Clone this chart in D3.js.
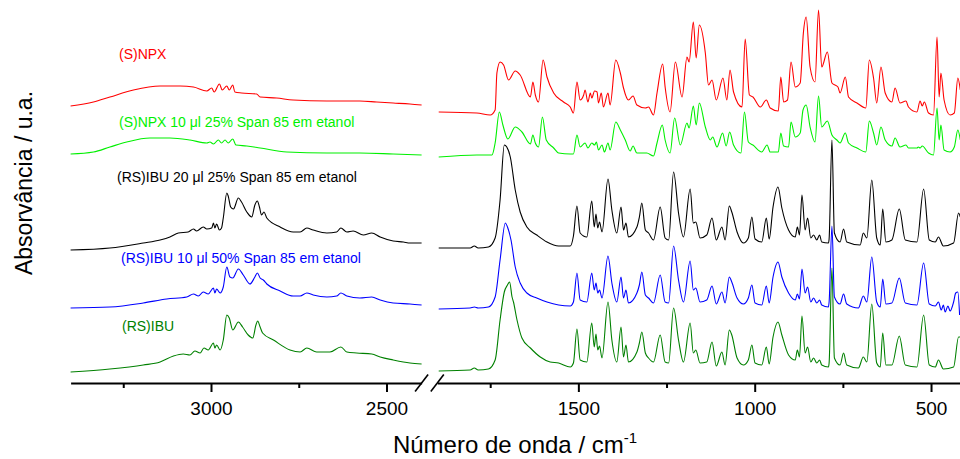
<!DOCTYPE html>
<html>
<head>
<meta charset="utf-8">
<script src="https://cdn.jsdelivr.net/npm/d3@7"></script>
<style>
  body { margin: 0; background: #fff; }
  text { font-family: Arial, "Liberation Sans", sans-serif; }
</style>
</head>
<body>
<div id="chart"></div>
<script>
// spectra: [wavenumber / cm-1, absorbance (a.u., offset as stacked in the figure)]
const npx = [[3400,2.77],[3335,2.81],[3288,2.86],[3221,2.93],[3145,2.97],[3088,2.97],[3050,2.96],[3012,2.92],[2998,2.95],[2991,2.91],[2976,2.99],[2968,2.93],[2955,2.97],[2948,2.93],[2938,2.98],[2932,2.91],[2913,2.90],[2870,2.89],[2860,2.86],[2813,2.85],[2766,2.83],[2670,2.82],[2576,2.82],[2528,2.81],[2481,2.80],[2433,2.79],[2400,2.78],
  [1896,2.71],[1788,2.70],[1750,2.68],[1736,2.73],[1731,3.10],[1722,3.21],[1712,3.18],[1698,3.03],[1679,3.12],[1665,3.08],[1636,2.86],[1629,3.01],[1622,2.88],[1613,2.81],[1600,3.23],[1589,3.06],[1570,2.90],[1542,2.81],[1523,2.76],[1514,2.70],[1504,3.01],[1495,2.83],[1485,2.88],[1481,2.93],[1473,2.81],[1466,2.90],[1462,2.85],[1454,2.92],[1447,2.91],[1443,2.80],[1435,2.90],[1429,2.76],[1416,2.90],[1410,2.78],[1394,3.23],[1381,3.10],[1372,2.95],[1358,2.83],[1345,2.87],[1334,2.78],[1310,2.75],[1301,2.76],[1287,2.68],[1277,2.90],[1261,3.19],[1254,2.96],[1240,2.71],[1225,3.21],[1206,2.86],[1192,3.26],[1186,3.21],[1174,3.61],[1166,3.25],[1157,3.58],[1140,3.30],[1131,2.98],[1121,3.03],[1109,2.83],[1090,3.05],[1079,2.83],[1070,3.13],[1060,2.91],[1036,2.76],[1027,3.44],[1015,2.88],[1005,2.86],[984,2.76],[967,2.83],[956,2.75],[933,2.72],[926,3.06],[918,2.81],[907,2.83],[897,3.21],[885,2.96],[871,3.00],[862,3.50],[854,3.66],[843,3.16],[829,3.01],[819,3.73],[810,3.16],[794,3.31],[781,3.00],[764,2.96],[758,2.90],[743,3.06],[734,2.86],[710,2.80],[685,2.75],[675,3.23],[663,3.05],[654,2.80],[642,3.16],[630,2.90],[611,2.81],[602,2.95],[588,2.80],[571,2.82],[564,2.76],[540,2.71],[531,2.82],[525,2.77],[519,2.81],[507,2.70],[493,2.68],[483,3.46],[477,2.86],[472,3.10],[463,2.83],[446,2.68],[434,2.70],[424,3.05],[417,2.93]];

const npxSpan = [[3400,2.29],[3335,2.31],[3288,2.36],[3240,2.41],[3174,2.45],[3117,2.45],[3060,2.43],[3012,2.40],[3003,2.41],[2993,2.39],[2979,2.43],[2970,2.40],[2960,2.43],[2951,2.40],[2938,2.44],[2929,2.38],[2898,2.37],[2860,2.35],[2784,2.31],[2670,2.30],[2576,2.30],[2481,2.29],[2400,2.28],
  [1896,2.26],[1788,2.28],[1745,2.28],[1736,2.40],[1724,2.71],[1714,2.58],[1700,2.44],[1679,2.56],[1660,2.51],[1636,2.39],[1629,2.48],[1622,2.40],[1613,2.36],[1602,2.66],[1591,2.43],[1570,2.35],[1556,2.30],[1523,2.29],[1514,2.29],[1504,2.48],[1495,2.36],[1481,2.40],[1473,2.35],[1462,2.40],[1454,2.38],[1449,2.41],[1443,2.33],[1433,2.38],[1426,2.31],[1416,2.40],[1410,2.33],[1394,2.61],[1381,2.53],[1367,2.43],[1353,2.32],[1345,2.37],[1334,2.30],[1306,2.30],[1287,2.27],[1277,2.40],[1262,2.58],[1254,2.43],[1240,2.30],[1227,2.65],[1211,2.38],[1192,2.60],[1186,2.55],[1174,2.77],[1166,2.58],[1157,2.80],[1140,2.56],[1126,2.43],[1119,2.46],[1107,2.36],[1091,2.50],[1081,2.37],[1071,2.51],[1060,2.38],[1039,2.30],[1029,2.71],[1018,2.41],[1005,2.38],[980,2.31],[965,2.38],[956,2.31],[933,2.31],[926,2.50],[918,2.37],[904,2.36],[897,2.61],[885,2.46],[871,2.50],[863,2.73],[854,2.78],[843,2.56],[829,2.41],[819,2.87],[810,2.56],[794,2.62],[781,2.48],[767,2.43],[758,2.40],[743,2.50],[734,2.40],[710,2.35],[685,2.31],[675,2.62],[663,2.50],[654,2.38],[642,2.56],[630,2.43],[611,2.37],[602,2.45],[588,2.36],[571,2.38],[564,2.35],[540,2.35],[536,2.36],[531,2.35],[525,2.37],[507,2.30],[493,2.28],[483,2.75],[477,2.43],[472,2.58],[463,2.33],[446,2.31],[434,2.36],[424,2.53],[417,2.43]];

const ibu20 = [[3400,1.33],[3288,1.35],[3193,1.40],[3145,1.43],[3117,1.46],[3093,1.50],[3065,1.51],[3050,1.54],[3041,1.52],[3022,1.56],[3012,1.54],[2998,1.55],[2993,1.60],[2989,1.55],[2984,1.59],[2976,1.53],[2970,1.55],[2965,1.65],[2955,1.90],[2951,1.87],[2944,1.76],[2936,1.74],[2922,1.85],[2913,1.81],[2898,1.71],[2884,1.66],[2875,1.78],[2868,1.82],[2862,1.76],[2856,1.68],[2849,1.71],[2841,1.65],[2803,1.56],[2766,1.51],[2746,1.51],[2727,1.55],[2709,1.53],[2670,1.50],[2642,1.51],[2630,1.55],[2613,1.51],[2595,1.52],[2566,1.48],[2542,1.50],[2518,1.46],[2481,1.42],[2452,1.41],[2433,1.40],[2400,1.40],
  [1896,1.35],[1807,1.35],[1795,1.37],[1784,1.35],[1755,1.36],[1736,1.45],[1722,1.83],[1710,2.38],[1703,2.36],[1693,2.26],[1679,1.93],[1665,1.71],[1646,1.56],[1618,1.48],[1589,1.41],[1556,1.37],[1523,1.37],[1514,1.47],[1504,1.77],[1495,1.50],[1476,1.46],[1462,1.82],[1455,1.56],[1450,1.69],[1445,1.55],[1440,1.61],[1433,1.51],[1416,2.04],[1405,1.73],[1391,1.50],[1379,1.76],[1372,1.53],[1365,1.60],[1358,1.46],[1334,1.56],[1327,1.66],[1320,1.80],[1310,1.53],[1301,1.50],[1287,1.43],[1268,1.76],[1254,1.45],[1244,1.43],[1230,2.11],[1216,1.70],[1202,1.46],[1183,1.94],[1174,1.60],[1167,1.61],[1155,1.45],[1136,1.48],[1121,1.65],[1109,1.43],[1093,1.56],[1084,1.43],[1072,1.77],[1065,1.71],[1050,1.51],[1032,1.40],[1018,1.45],[1008,1.66],[999,1.44],[980,1.41],[967,1.65],[959,1.44],[948,1.76],[934,1.96],[923,1.75],[904,1.53],[885,1.46],[879,1.56],[873,1.48],[866,1.88],[857,1.53],[850,1.65],[841,1.45],[833,1.48],[824,1.43],[816,1.48],[810,1.41],[791,1.40],[789,1.44],[781,2.43],[774,1.50],[758,1.41],[748,1.54],[739,1.41],[701,1.38],[692,1.50],[682,1.45],[668,2.03],[654,1.45],[644,1.38],[637,1.74],[628,1.41],[611,1.43],[590,1.74],[573,1.43],[540,1.41],[521,1.94],[505,1.43],[488,1.41],[479,1.46],[465,1.37],[436,1.40],[422,1.70],[417,1.66]];

const ibu10 = [[3400,0.75],[3288,0.76],[3193,0.80],[3126,0.84],[3069,0.86],[3050,0.89],[3036,0.87],[3022,0.91],[3008,0.89],[2993,0.95],[2989,0.90],[2984,0.94],[2974,0.90],[2965,0.96],[2955,1.16],[2946,1.06],[2938,1.05],[2922,1.14],[2908,1.08],[2889,0.99],[2875,1.06],[2868,1.10],[2860,1.05],[2851,1.03],[2841,0.99],[2803,0.92],[2766,0.87],[2746,0.87],[2727,0.90],[2709,0.88],[2670,0.86],[2642,0.87],[2630,0.90],[2613,0.87],[2576,0.85],[2542,0.86],[2518,0.83],[2481,0.80],[2433,0.79],[2400,0.78],
  [1896,0.74],[1807,0.75],[1795,0.76],[1784,0.75],[1755,0.76],[1736,0.86],[1722,1.23],[1707,1.60],[1701,1.56],[1691,1.43],[1679,1.16],[1665,1.00],[1646,0.90],[1618,0.85],[1589,0.81],[1556,0.78],[1523,0.77],[1514,0.81],[1504,1.10],[1495,0.83],[1476,0.81],[1462,1.10],[1455,0.93],[1450,1.00],[1445,0.90],[1440,0.93],[1433,0.85],[1416,1.27],[1405,1.00],[1391,0.81],[1379,1.06],[1372,0.85],[1365,0.93],[1358,0.80],[1334,0.90],[1327,0.98],[1320,1.11],[1310,0.88],[1301,0.85],[1287,0.80],[1268,1.08],[1254,0.81],[1244,0.80],[1230,1.37],[1216,1.03],[1202,0.81],[1183,1.22],[1174,0.93],[1167,0.95],[1155,0.81],[1136,0.83],[1121,0.97],[1109,0.79],[1093,0.91],[1084,0.80],[1072,1.06],[1065,1.01],[1050,0.85],[1032,0.79],[1018,0.85],[1008,0.98],[999,0.80],[980,0.78],[967,0.97],[959,0.80],[948,1.06],[934,1.21],[923,1.06],[904,0.90],[885,0.83],[879,0.89],[873,0.84],[866,1.14],[857,0.90],[850,0.96],[841,0.81],[833,0.85],[824,0.80],[816,0.83],[810,0.78],[791,0.76],[789,0.81],[781,1.57],[774,0.86],[758,0.79],[748,0.89],[739,0.79],[706,0.75],[692,0.87],[682,0.81],[668,1.26],[654,0.81],[644,0.76],[637,1.04],[628,0.79],[611,0.80],[590,1.05],[573,0.80],[540,0.78],[521,1.20],[505,0.79],[488,0.77],[479,0.81],[471,0.73],[465,0.78],[460,0.71],[452,0.77],[446,0.72],[436,0.81],[430,0.90],[424,0.91],[419,0.68]];

const ibu = [[3400,0.11],[3288,0.14],[3193,0.18],[3145,0.21],[3107,0.27],[3079,0.29],[3060,0.28],[3046,0.32],[3031,0.30],[3020,0.35],[3008,0.33],[2993,0.40],[2989,0.35],[2984,0.38],[2974,0.33],[2965,0.43],[2955,0.68],[2948,0.65],[2938,0.53],[2922,0.61],[2910,0.56],[2894,0.48],[2881,0.45],[2872,0.58],[2867,0.62],[2860,0.56],[2853,0.50],[2822,0.43],[2775,0.33],[2746,0.31],[2727,0.35],[2699,0.31],[2661,0.31],[2630,0.36],[2613,0.31],[2585,0.30],[2542,0.29],[2518,0.26],[2481,0.23],[2452,0.21],[2433,0.20],[2400,0.19],
  [1896,0.12],[1807,0.13],[1795,0.15],[1784,0.13],[1755,0.14],[1736,0.23],[1722,0.63],[1710,0.91],[1701,0.98],[1695,1.01],[1688,0.86],[1684,0.81],[1674,0.63],[1660,0.45],[1636,0.35],[1608,0.26],[1580,0.21],[1556,0.20],[1523,0.16],[1514,0.20],[1504,0.54],[1495,0.23],[1476,0.21],[1462,0.60],[1455,0.36],[1450,0.49],[1445,0.33],[1440,0.37],[1433,0.25],[1416,0.81],[1405,0.43],[1391,0.21],[1379,0.56],[1372,0.26],[1365,0.38],[1358,0.21],[1334,0.31],[1327,0.40],[1320,0.51],[1310,0.30],[1301,0.25],[1287,0.21],[1268,0.48],[1254,0.21],[1244,0.20],[1230,0.75],[1216,0.43],[1202,0.21],[1183,0.60],[1174,0.30],[1167,0.33],[1155,0.20],[1136,0.21],[1121,0.41],[1109,0.17],[1093,0.31],[1084,0.18],[1072,0.53],[1065,0.48],[1050,0.25],[1032,0.18],[1018,0.23],[1008,0.38],[999,0.20],[980,0.18],[967,0.36],[959,0.19],[948,0.46],[934,0.61],[923,0.48],[904,0.28],[885,0.23],[879,0.33],[873,0.26],[866,0.67],[857,0.30],[850,0.36],[841,0.21],[833,0.25],[824,0.20],[816,0.23],[810,0.18],[791,0.16],[789,0.20],[781,1.15],[774,0.25],[758,0.18],[748,0.30],[739,0.18],[706,0.15],[692,0.26],[682,0.21],[668,0.79],[654,0.20],[644,0.16],[637,0.50],[628,0.18],[611,0.18],[590,0.47],[573,0.18],[540,0.16],[521,0.68],[505,0.18],[488,0.16],[479,0.23],[465,0.14],[436,0.16],[422,0.46],[417,0.46]];

const seriesNames = ["(S)NPX", "(S)NPX 10 μl 25% Span 85 em etanol", "(RS)IBU 20 μl 25% Span 85 em etanol", "(RS)IBU 10 μl 50% Span 85 em etanol", "(RS)IBU"];
const seriesData = [npx, npxSpan, ibu20, ibu10, ibu];
const seriesColors = ["#ff0000", "#00f000", "#000000", "#0000ff", "#008000"];

const leftDomain = [3400, 2400];
const rightDomain = [1900, 400];
const leftMajor = [3000, 2500], leftMinor = [3250, 2750];
const rightMajor = [1500, 1000, 500], rightMinor = [1750, 1250, 750];

// layout
const width = 960, height = 459;
const axisY = 383;
const labelPos = [[119, 59], [119, 127], [117, 182], [121, 263], [122, 331]];

const svg = d3.select("#chart").append("svg")
  .attr("width", width).attr("height", height);

const xLeft = d3.scaleLinear().domain(leftDomain).range([70.6, 421.6]);
const xRight = d3.scaleLinear().domain(rightDomain).range([437.3, 966.3]);
const y = d3.scaleLinear().domain([0, 3.8]).range([axisY, 3]);

const panels = [
  { id: "clipL", x: xLeft, keep: d => d[0] >= 2000, major: leftMajor, minor: leftMinor },
  { id: "clipR", x: xRight, keep: d => d[0] < 2000, major: rightMajor, minor: rightMinor }
];

const defs = svg.append("defs");
panels.forEach(p => {
  const r = p.x.range();
  defs.append("clipPath").attr("id", p.id).append("rect")
    .attr("x", r[0] - 1).attr("y", 0)
    .attr("width", r[1] - r[0] + 2).attr("height", axisY);
});

// draw spectra, bottom one first
panels.forEach(p => {
  const line = d3.line()
    .x(d => p.x(d[0]))
    .y(d => y(d[1]))
    .curve(d3.curveMonotoneX);
  const g = svg.append("g").attr("clip-path", `url(#${p.id})`);
  d3.range(seriesData.length).reverse().forEach(i => {
    g.append("path")
      .datum(seriesData[i].filter(p.keep))
      .attr("fill", "none")
      .attr("stroke", seriesColors[i])
      .attr("stroke-width", 1.1)
      .attr("stroke-linejoin", "round")
      .attr("d", line);
  });
});

// axes
panels.forEach(p => {
  const gMajor = svg.append("g")
    .attr("transform", `translate(0,${axisY})`)
    .call(d3.axisBottom(p.x).tickValues(p.major).tickFormat(d3.format("d"))
      .tickSize(9).tickSizeOuter(0).tickPadding(9.5));
  gMajor.select(".domain").attr("stroke", "#000").attr("stroke-width", 2);
  gMajor.selectAll(".tick line").attr("stroke", "#000").attr("stroke-width", 2);
  gMajor.selectAll(".tick text")
    .attr("font-size", 19).attr("font-family", "Arial, 'Liberation Sans', sans-serif")
    .attr("fill", "#000");

  const gMinor = svg.append("g")
    .attr("transform", `translate(0,${axisY})`)
    .call(d3.axisBottom(p.x).tickValues(p.minor).tickSize(5).tickFormat(""));
  gMinor.select(".domain").remove();
  gMinor.selectAll(".tick line").attr("stroke", "#000").attr("stroke-width", 2);
});

// axis break marks
[xLeft.range()[1], xRight.range()[0]].forEach(bx => {
  svg.append("line")
    .attr("x1", bx - 6.5).attr("y1", axisY + 8.5)
    .attr("x2", bx + 6.5).attr("y2", axisY - 8.5)
    .attr("stroke", "#000").attr("stroke-width", 1.6);
});

// series labels
seriesNames.forEach((name, i) => {
  svg.append("text")
    .attr("x", labelPos[i][0]).attr("y", labelPos[i][1])
    .attr("font-size", 14)
    .attr("fill", seriesColors[i])
    .text(name);
});

// axis titles
const xTitle = svg.append("text")
  .attr("x", 515).attr("y", 453)
  .attr("text-anchor", "middle")
  .attr("font-size", 24)
  .attr("fill", "#000");
xTitle.append("tspan").text("Número de onda / cm");
xTitle.append("tspan").attr("font-size", 15).attr("dy", -10).text("-1");

svg.append("text")
  .attr("transform", "translate(32,183) rotate(-90)")
  .attr("text-anchor", "middle")
  .attr("font-size", 23)
  .attr("fill", "#000")
  .text("Absorvância / u.a.");
</script>
</body>
</html>
